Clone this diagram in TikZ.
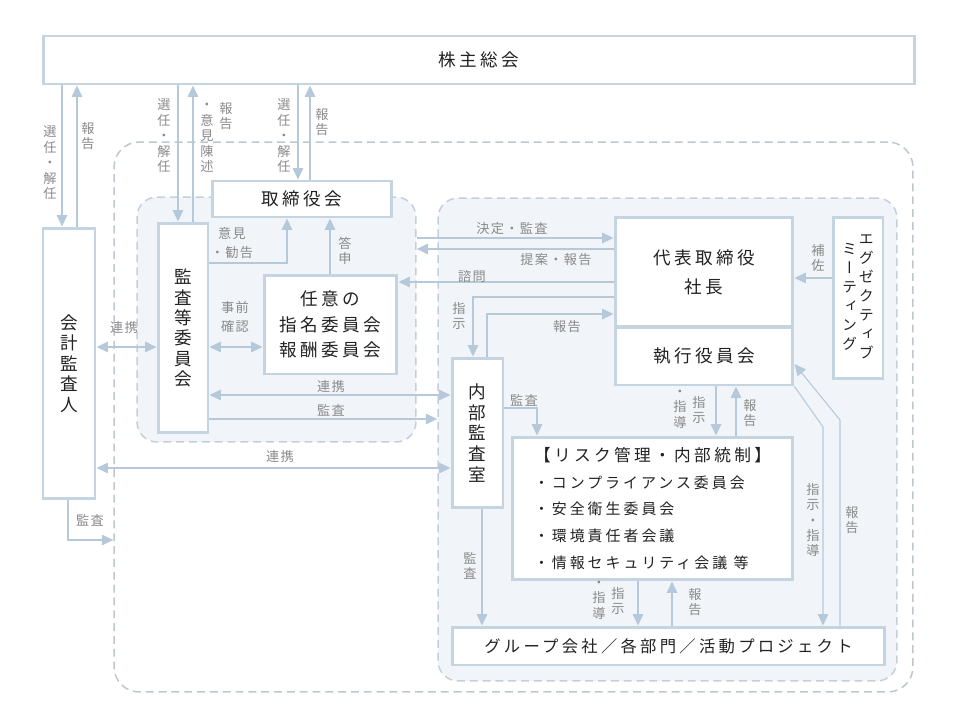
\documentclass[tikz,border=0pt]{standalone}
\usepackage{fontspec}
\setmainfont{Noto Sans CJK JP}
\newfontfamily\vjp[RawFeature=+vert]{Noto Sans CJK JP}
\newfontfamily\wjp[LetterSpace=20]{Noto Sans CJK JP}
\newfontfamily\ljp[LetterSpace=10]{Noto Sans CJK JP}
\usetikzlibrary{arrows.meta}
\definecolor{boxline}{HTML}{C5D4E1}
\definecolor{arrline}{HTML}{B5C9DB}
\definecolor{grpfill}{HTML}{F1F5F9}
\definecolor{grpline}{HTML}{C3D0DB}
\definecolor{outerline}{HTML}{BEC7D0}
\definecolor{labtext}{HTML}{8A8A8A}
\definecolor{maintext}{HTML}{222222}

\begin{document}
\begin{tikzpicture}[x=0.02cm, y=-0.02cm,
        box/.style = {draw=boxline, line width=1.7pt, fill=white,
            text=maintext, inner sep=0pt, align=center,
            font=\wjp\fontsize{10}{14.7}\selectfont},
        vbox/.style = {box, font=\vjp\fontsize{10}{11.6}\selectfont},
        grp/.style = {draw=grpline, fill=grpfill, line width=0.85pt,
            dash pattern=on 4.5pt off 2.8pt, rounded corners=0.4cm},
        arr/.style = {draw=arrline, line width=0.6pt,
            -{Triangle[length=6.5pt,width=6pt]}},
        darr/.style = {arr, {Triangle[length=6.5pt,width=6pt]}-{Triangle[length=6.5pt,width=6pt]}},
        lab/.style = {text=labtext, inner sep=0pt, align=center,
            font=\ljp\fontsize{7.5}{10.8}\selectfont},
        vlab/.style = {lab, font=\vjp\fontsize{7.5}{8.8}\selectfont}]

        \useasboundingbox (0,0) rectangle (960,720);

        % Groups
        \node[grp, fill=none, draw=outerline, rounded corners=0.5cm,
            minimum width=15.98cm, minimum height=11cm] (outer) at (513.5,417) {};
        \node[grp, minimum width=5.58cm, minimum height=4.9cm] (acg) at (276.5,319.5) {};
        \node[grp, minimum width=9.18cm, minimum height=9.66cm] (exg) at (667.5,439.5) {};

        % Boxes
        \node[box, minimum width=17.44cm, minimum height=0.96cm] (gm) at (479,60) {株主総会};
        \node[box, minimum width=3.6cm, minimum height=0.72cm] (bod) at (302,199) {取締役会};
        \node[vbox, minimum width=1.04cm, minimum height=5.42cm] (aud) at (69,363.5) {会\\計\\監\\査\\人};
        \node[vbox, minimum width=1.0cm, minimum height=4.2cm] (ac) at (183,328) {監\\査\\等\\委\\員\\会};
        \node[box, minimum width=2.66cm, minimum height=1.98cm] (nc) at (330.5,324.5)
            {任意の\\指名委員会\\報酬委員会};
        \node[box, minimum width=3.56cm, minimum height=2.2cm,
            font=\wjp\fontsize{10}{16.4}\selectfont] (ceo) at (704,272) {代表取締役\\社長};
        \node[box, minimum width=3.56cm, minimum height=1.16cm] (eo) at (704,356) {執行役員会};
        \node[box, minimum width=1.0cm, minimum height=3.24cm,
            font=\vjp\fontsize{8.5}{10.8}\selectfont] (em) at (858,298)
            {\begin{tabular}{@{}c@{}}ミ\\ー\\テ\\ィ\\ン\\グ\end{tabular}\hspace{1pt}%
             \begin{tabular}{@{}c@{}}エ\\グ\\ゼ\\ク\\テ\\ィ\\ブ\end{tabular}};
        \node[vbox, minimum width=1.02cm, minimum height=3.0cm,
            font=\vjp\fontsize{10}{11.9}\selectfont] (ia) at (477.5,433) {内\\部\\監\\査\\室};
        \node[box, minimum width=5.62cm, minimum height=2.86cm, align=left,
            font=\wjp\fontsize{8.5}{15.3}\selectfont] (rm) at (652.5,508.5)
            {{\fontsize{9.5}{15.3}\selectfont 【リスク管理・内部統制】}\\
             ・コンプライアンス委員会\\・安全衛生委員会\\・環境責任者会議\\・情報セキュリティ会議 等};
        \node[box, minimum width=8.66cm, minimum height=0.76cm,
            font=\wjp\fontsize{9.3}{12}\selectfont] (grp) at (668.5,646)
            {グループ会社／各部門／活動プロジェクト};

        % Arrows from the shareholders
        \draw[arr] (62,0 |- gm.south) -- (62,0 |- aud.north);
        \draw[arr] (77,0 |- aud.north) -- (77,0 |- gm.south);
        \draw[arr] (178,0 |- gm.south) -- (178,0 |- ac.north);
        \draw[arr] (193,0 |- ac.north) -- (193,0 |- gm.south);
        \draw[arr] (298,0 |- gm.south) -- (298,0 |- bod.north);
        \draw[arr] (310,0 |- bod.north) -- (310,0 |- gm.south);

        % Board side
        \draw[arr] (ac.east |- 0,263) -| (287,0 |- bod.south);
        \draw[arr] (330,0 |- nc.north) -- (330,0 |- bod.south);
        \draw[darr] (ac.east |- 0,347) -- (nc.west |- 0,347);
        \draw[darr] (aud.east |- 0,347) -- (ac.west |- 0,347);
        \draw[darr] (ac.east |- 0,395) -- (ia.west |- 0,395);
        \draw[arr] (ac.east |- 0,419) -- (exg.west |- 0,419);
        \draw[darr] (aud.east |- 0,468) -- (ia.west |- 0,468);
        \draw[arr] (68,0 |- aud.south) |- (outer.west |- 0,540);

        % Executive side
        \draw[arr] (acg.east |- 0,238) -- (ceo.west |- 0,238);
        \draw[arr] (ceo.west |- 0,249) -- (acg.east |- 0,249);
        \draw[arr] (ceo.west |- 0,282) -- (nc.east |- 0,282);
        \draw[arr] (ceo.west |- 0,297) -| (473,0 |- ia.north);
        \draw[arr] (487,0 |- ia.north) |- (ceo.west |- 0,314);
        \draw[arr] (em.west |- 0,278) -- (ceo.east |- 0,278);
        \draw[arr] (ia.east |- 0,408) -| (537,0 |- rm.north);
        \draw[arr] (716,0 |- eo.south) -- (716,0 |- rm.north);
        \draw[arr] (736,0 |- rm.north) -- (736,0 |- eo.south);
        \draw[arr] (482,0 |- ia.south) -- (482,0 |- grp.north);
        \draw[arr] (638,0 |- rm.south) -- (638,0 |- grp.north);
        \draw[arr] (672,0 |- grp.north) -- (672,0 |- rm.south);
        \draw[arr] (eo.south east) -- (823,427) -- (823,0 |- grp.north);
        \draw[arr] (840,0 |- grp.north) -- (840,420) -- (eo.east |- 0,364);

        % Labels
        \node[vlab] (t1) at (50,163) {選\\任\\・\\解\\任};
        \node[vlab] (t2) at (88,136) {報\\告};
        \node[vlab] (t3) at (164,136) {選\\任\\・\\解\\任};
        \node[vlab] (t4a) at (226,116) {報\\告};
        \node[vlab] (t4b) at (207,138) {・\\意\\見\\陳\\述};
        \node[vlab] (t5) at (284,136) {選\\任\\・\\解\\任};
        \node[vlab] (t6) at (322,122) {報\\告};
        \node[lab] (t7) at (232,243) {意見\\・勧告};
        \node[vlab] (t8) at (345,251) {答\\申};
        \node[lab] (t9) at (235,317) {事前\\確認};
        \node[lab] (t10) at (124,328) {連携};
        \node[lab] (t11) at (331,387) {連携};
        \node[lab] (t12) at (331,410) {監査};
        \node[lab] (t13) at (280,457) {連携};
        \node[lab] (t14) at (90,520) {監査};
        \node[lab] (t15) at (512,229) {決定・監査};
        \node[lab] (t16) at (556,260) {提案・報告};
        \node[lab] (t17) at (472,277) {諮問};
        \node[vlab] (t18) at (459,316) {指\\示};
        \node[lab] (t19) at (567,327) {報告};
        \node[vlab] (t20) at (818,258) {補\\佐};
        \node[lab] (t21) at (524,400) {監査};
        \node[vlab] (t22a) at (699,410) {指\\示};
        \node[vlab] (t22b) at (680,409) {・\\指\\導};
        \node[vlab] (t23) at (750,413) {報\\告};
        \node[vlab] (t24) at (470,566) {監\\査};
        \node[vlab] (t25a) at (618,601) {指\\示};
        \node[vlab] (t25b) at (599,600) {・\\指\\導};
        \node[vlab] (t26) at (695,602) {報\\告};
        \node[vlab] (t27) at (813,520) {指\\示\\・\\指\\導};
        \node[vlab] (t28) at (852,520) {報\\告};
    \end{tikzpicture}
\end{document}
